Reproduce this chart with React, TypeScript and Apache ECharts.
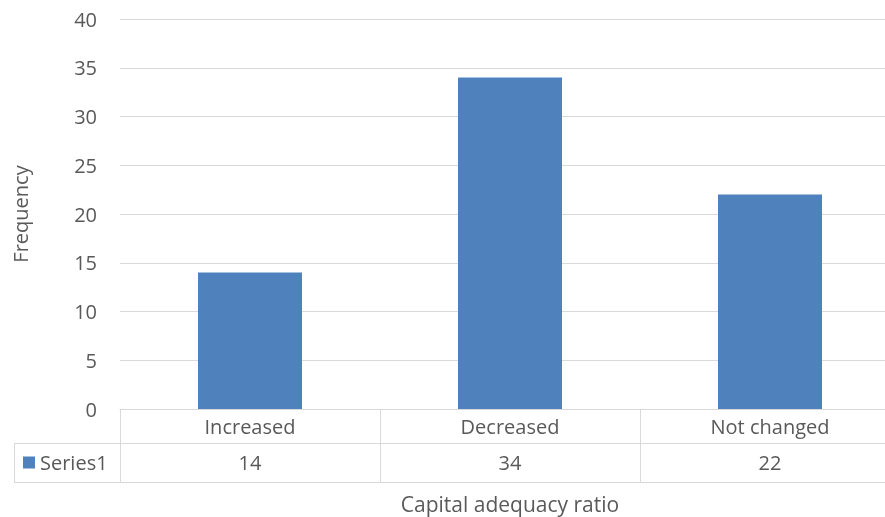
import React, { useEffect, useRef } from "react";
import * as echarts from "echarts";

const categories = ["Increased", "Decreased", "Not changed"];
const series1 = [14, 34, 22];
const seriesName = "Series1";
const yTicks = { min: 0, max: 40, interval: 5 };
const xTitle = "Capital adequacy ratio";
const yTitle = "Frequency";

const FONT = "'Open Sans', 'Noto Sans', sans-serif";
const TEXT = "#595959";
const LINE = "#d9d9d9";
const BAR = "#4f81bd";
const FS = 20;

export default function App() {
  const ref = useRef<HTMLDivElement>(null);
  useEffect(() => {
    if (!ref.current) return;
    const chart = echarts.init(ref.current, undefined, { renderer: "svg" });
    const gridLeft = 120;
    const gridTop = 19;
    const axisY = 409;
    const row1 = 34;
    const row2 = 39;
    chart.setOption({
      animation: false,
      textStyle: { fontFamily: FONT },
      grid: {
        left: gridLeft,
        top: gridTop,
        width: 780,
        height: axisY - gridTop,
        containLabel: false,
        outerBoundsMode: "none",
      },
      legend: {
        data: [seriesName],
        left: 23,
        top: axisY + row1 + row2 / 2 - FS / 2,
        padding: 0,
        icon: "rect",
        itemWidth: 12,
        itemHeight: 12,
        itemGap: 0,
        textStyle: { color: TEXT, fontSize: FS, fontFamily: FONT },
        selectedMode: false,
      },
      xAxis: {
        type: "category",
        data: categories,
        axisLine: { show: true, lineStyle: { color: LINE, width: 1 } },
        axisTick: { show: true, length: row1 + row2, lineStyle: { color: LINE } },
        axisLabel: {
          margin: 0,
          interval: 0,
          formatter: (v: string, i: number) => `{a|${v}}\n{b|${series1[i]}}`,
          rich: {
            a: { lineHeight: row1, fontSize: FS, color: TEXT, fontFamily: FONT },
            b: { lineHeight: row2, fontSize: FS, color: TEXT, fontFamily: FONT },
          },
        },
        name: xTitle,
        nameLocation: "middle",
        nameGap: 84,
        nameTextStyle: { color: TEXT, fontSize: 21, fontFamily: FONT },
      },
      yAxis: {
        type: "value",
        min: yTicks.min,
        max: yTicks.max,
        interval: yTicks.interval,
        axisLine: { show: false },
        axisTick: { show: false },
        splitLine: { lineStyle: { color: LINE, width: 1 } },
        axisLabel: { color: TEXT, fontSize: FS, margin: 23, fontFamily: FONT },
        name: yTitle,
        nameLocation: "middle",
        nameRotate: 90,
        nameGap: 90,
        nameTextStyle: { color: TEXT, fontSize: FS, fontFamily: FONT },
      },
      series: [
        {
          name: seriesName,
          type: "bar",
          data: series1,
          barWidth: "40%",
          itemStyle: { color: BAR },
        },
      ],
      graphic: [
        {
          type: "line",
          shape: { x1: 14, y1: axisY + row1 + 0.5, x2: 900, y2: axisY + row1 + 0.5 },
          style: { stroke: LINE, lineWidth: 1 },
        },
        {
          type: "line",
          shape: { x1: 14, y1: axisY + row1 + row2 + 0.5, x2: 900, y2: axisY + row1 + row2 + 0.5 },
          style: { stroke: LINE, lineWidth: 1 },
        },
        {
          type: "line",
          shape: { x1: 14.5, y1: axisY + row1, x2: 14.5, y2: axisY + row1 + row2 },
          style: { stroke: LINE, lineWidth: 1 },
        },
      ],
    });
    return () => chart.dispose();
  }, []);
  return (
    <div
      ref={ref}
      style={{ position: "fixed", left: 0, top: 0, width: 885, height: 517 }}
    />
  );
}
